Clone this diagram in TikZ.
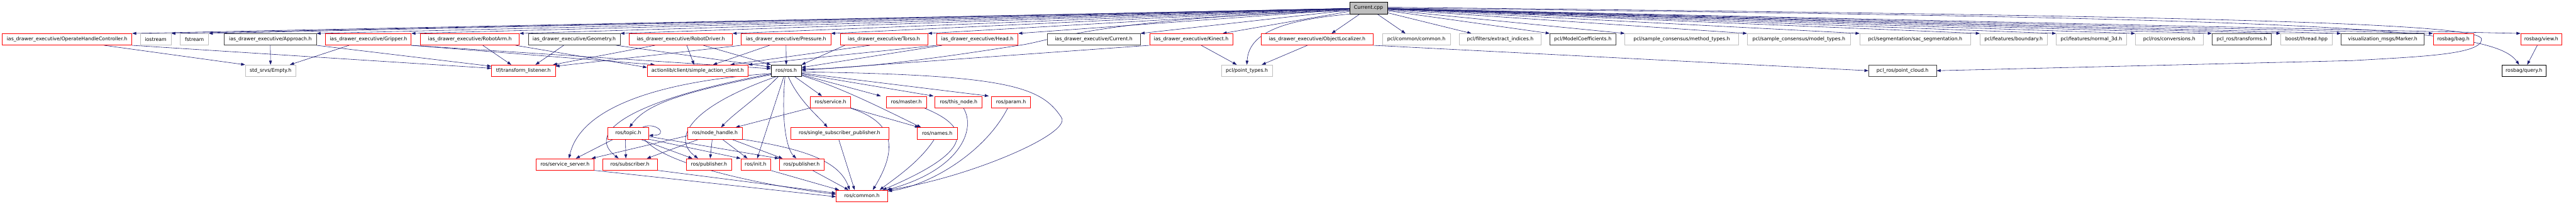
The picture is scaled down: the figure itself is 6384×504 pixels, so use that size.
\documentclass[tikz,border=0pt]{standalone}
\usepackage{fontspec}
\setmainfont{DejaVu Sans}
\usetikzlibrary{arrows.meta,calc}
\definecolor{edgec}{HTML}{191970}
\definecolor{redc}{HTML}{FF0000}
\definecolor{grayc}{HTML}{BFBFBF}
\definecolor{darkc}{HTML}{404040}
\pgfdeclarelayer{bg}
\pgfsetlayers{bg,main}
\newcommand\mkn[6]{\node[#5,minimum width={#3-#2}] (#1) at ({(#2+#3)/2},#4) {#6};}
\begin{document}
\begin{tikzpicture}[x=1pt,y=-1pt,
  box/.style={draw, fill=white, line width=1pt, inner sep=0pt, minimum height=28.5pt, font=\fontsize{12.2}{14}\selectfont},
  rbox/.style={box, draw=redc},
  gbox/.style={box, draw=grayc},
  dbox/.style={box, draw=darkc},
  kbox/.style={box, draw=black},
  cbox/.style={box, draw=black, fill=grayc},
  edg/.style={draw=edgec, line width=0.9pt, -{Triangle[length=10pt,width=7pt,fill=edgec]}}]
\useasboundingbox (0,0) rectangle (6384,504);
% row 0
\mkn{cpp}{3345}{3438}{20}{cbox}{Current.cpp}
% row 1
\mkn{ohc}{5}{327}{97.5}{rbox}{ias\_drawer\_executive/OperateHandleController.h}
\mkn{iostream}{348}{424}{97.5}{gbox}{iostream}
\mkn{fstream}{447}{517}{97.5}{gbox}{fstream}
\mkn{approach}{556}{784}{97.5}{dbox}{ias\_drawer\_executive/Approach.h}
\mkn{gripper}{807}{1019}{97.5}{rbox}{ias\_drawer\_executive/Gripper.h}
\mkn{robotarm}{1042}{1287}{97.5}{rbox}{ias\_drawer\_executive/RobotArm.h}
\mkn{geometry}{1309}{1537}{97.5}{dbox}{ias\_drawer\_executive/Geometry.h}
\mkn{robotdriver}{1559}{1815}{97.5}{rbox}{ias\_drawer\_executive/RobotDriver.h}
\mkn{pressure}{1837}{2059}{97.5}{rbox}{ias\_drawer\_executive/Pressure.h}
\mkn{torso}{2082}{2299}{97.5}{rbox}{ias\_drawer\_executive/Torso.h}
\mkn{head}{2321}{2523}{97.5}{rbox}{ias\_drawer\_executive/Head.h}
\mkn{currenth}{2595}{2826}{97.5}{dbox}{ias\_drawer\_executive/Current.h}
\mkn{kinect}{2849}{3055}{97.5}{rbox}{ias\_drawer\_executive/Kinect.h}
\mkn{objloc}{3125}{3403}{97.5}{rbox}{ias\_drawer\_executive/ObjectLocalizer.h}
\mkn{pclcommon}{3426}{3594}{97.5}{gbox}{pcl/common/common.h}
\mkn{extract}{3617}{3819}{97.5}{gbox}{pcl/filters/extract\_indices.h}
\mkn{modelcoef}{3841}{4004}{97.5}{dbox}{pcl/ModelCoefficients.h}
\mkn{methodtypes}{4027}{4308}{97.5}{gbox}{pcl/sample\_consensus/method\_types.h}
\mkn{modeltypes}{4330}{4586}{97.5}{gbox}{pcl/sample\_consensus/model\_types.h}
\mkn{sacseg}{4609}{4884}{97.5}{gbox}{pcl/segmentation/sac\_segmentation.h}
\mkn{boundary}{4907}{5073}{97.5}{gbox}{pcl/features/boundary.h}
\mkn{normal}{5096}{5270}{97.5}{gbox}{pcl/features/normal\_3d.h}
\mkn{conversions}{5292}{5460}{97.5}{gbox}{pcl/ros/conversions.h}
\mkn{transforms}{5482}{5629}{97.5}{dbox}{pcl\_ros/transforms.h}
\mkn{thread}{5652}{5780}{97.5}{gbox}{boost/thread.hpp}
\mkn{marker}{5802}{6008}{97.5}{dbox}{visualization\_msgs/Marker.h}
\mkn{bag}{6030}{6130}{97.5}{rbox}{rosbag/bag.h}
\mkn{view}{6247}{6349}{97.5}{rbox}{rosbag/view.h}
% row 2
\mkn{empty}{608}{733}{175}{gbox}{std\_srvs/Empty.h}
\mkn{tf}{1218}{1376}{175}{rbox}{tf/transform\_listener.h}
\mkn{actionlib}{1604}{1854}{175}{rbox}{actionlib/client/simple\_action\_client.h}
\mkn{rosh}{1911}{1986}{175}{kbox}{ros/ros.h}
\mkn{pointtypes}{3027}{3153}{175}{gbox}{pcl/point\_types.h}
\mkn{pointcloud}{4631}{4799}{175}{dbox}{pcl\_ros/point\_cloud.h}
\mkn{query}{6200}{6310}{175}{kbox}{rosbag/query.h}
% row 3
\mkn{service}{2008}{2108}{252.5}{rbox}{ros/service.h}
\mkn{master}{2196}{2296}{252.5}{rbox}{ros/master.h}
\mkn{thisnode}{2317}{2434}{252.5}{rbox}{ros/this\_node.h}
\mkn{param}{2457}{2554}{252.5}{rbox}{ros/param.h}
% row 4
\mkn{topic}{1506}{1608}{330}{rbox}{ros/topic.h}
\mkn{nodehandle}{1704}{1840}{330}{rbox}{ros/node\_handle.h}
\mkn{singlesub}{1959}{2202}{330}{rbox}{ros/single\_subscriber\_publisher.h}
\mkn{names}{2273}{2372}{330}{rbox}{ros/names.h}
% row 5
\mkn{srvserver}{1328}{1472}{407}{rbox}{ros/service\_server.h}
\mkn{subscriber}{1493}{1629}{407}{rbox}{ros/subscriber.h}
\mkn{pubA}{1701}{1813}{407}{rbox}{ros/publisher.h}
\mkn{init}{1836}{1909}{407}{rbox}{ros/init.h}
\mkn{pubB}{1931}{2042}{407}{rbox}{ros/publisher.h}
% row 6
\mkn{common}{2072}{2200}{485}{rbox}{ros/common.h}

\begin{pgfonlayer}{bg}
% Current.cpp -> row 1
\foreach \n in {ohc,iostream,fstream,approach,gripper,robotarm,geometry,robotdriver,pressure,torso,head,currenth}
  \draw[edg] (cpp) -- (\n.north east);
\draw[edg] (cpp) -- ([xshift=78pt]kinect.north);
\draw[edg] (cpp) -- ([xshift=36pt]objloc.north);
\draw[edg] (cpp) -- ([xshift=-27pt]pclcommon.north);
\draw[edg] (cpp) -- ([xshift=30pt]extract.north west);
\foreach \n in {modelcoef,methodtypes,modeltypes,sacseg,boundary,normal,conversions,transforms,thread,marker,bag,view}
  \draw[edg] (cpp) -- (\n.north west);
% Current.cpp -> others
\draw[edg] ([yshift=-6pt]cpp.west) .. controls (2750,45) and (2620,95) .. (2540,110) .. controls (2380,135) and (2150,170) .. ([yshift=4pt]rosh.east);
\draw[edg] (cpp.south west) .. controls (3180,50) and (3095,80) .. (pointtypes.north);
\draw[edg] (cpp.east) .. controls (5800,45) and (6180,70) .. ([xshift=-12pt]query.north);
\draw[edg] ([yshift=2pt]cpp.east) .. controls (5600,40) and (6150,60) .. (6150,97) .. controls (6150,135) and (6000,140) .. (5830,150) -- (pointcloud.east);
\draw[edg] ([xshift=-10pt]view.south) -- ([xshift=8pt]query.north);
% row 1 -> row 2
\draw[edg] ([xshift=92pt]ohc.south) -- (empty.north west);
\draw[edg] (ohc.south east) -- ([yshift=6pt]tf.west);
\draw[edg] (approach.south) -- (empty.north);
\draw[edg] (approach.south east) -- ([yshift=11pt]tf.west);
\draw[edg] ([xshift=-48pt]gripper.south) -- ([xshift=-15pt]empty.north east);
\draw[edg] (gripper.south east) -- ([xshift=19pt]actionlib.north west);
\draw[edg] (gripper.south east) -- ([yshift=5pt]rosh.west);
\draw[edg] ([xshift=32pt]robotarm.south) -- ([xshift=-30pt]tf.north);
\draw[edg] ([xshift=113pt]robotarm.south) -- ([yshift=8pt]actionlib.west);
\draw[edg] ([xshift=-26pt]geometry.south) -- ([xshift=30pt]tf.north);
\draw[edg] ([xshift=104pt]geometry.south) -- ([yshift=9pt]rosh.west);
\draw[edg] ([xshift=-64pt]robotdriver.south) -- ([xshift=-6pt]tf.north east);
\draw[edg] ([xshift=15pt]robotdriver.south) -- ([xshift=-9pt]actionlib.north);
\draw[edg] ([xshift=56pt]robotdriver.south) -- (rosh.north west);
\draw[edg] (pressure.south west) -- ([yshift=11pt]tf.east);
\draw[edg] ([xshift=-41pt]pressure.south) -- ([xshift=38pt]actionlib.north);
\draw[edg] (pressure.south) -- (rosh.north);
\draw[edg] ([xshift=-97pt]torso.south) -- (rosh.north east);
\draw[edg] ([xshift=-35pt]torso.south) -- ([xshift=81pt]actionlib.north);
\draw[edg] (head.south west) -- (actionlib.north east);
\draw[edg] ([xshift=-87pt]head.south) -- ([yshift=8pt]rosh.east);
\draw[edg] (kinect.south west) -- ([yshift=1pt]rosh.east);
\draw[edg] ([xshift=25pt]kinect.south) -- ([xshift=-25pt]pointtypes.north);
\draw[edg] ([xshift=-24pt]objloc.south) -- ([xshift=37pt]pointtypes.north);
\draw[edg] (objloc.south east) -- (pointcloud.west);
% ros.h -> children
\draw[edg] ([yshift=-7pt]rosh.west) .. controls (1650,200) and (1440,260) .. ([xshift=10pt]srvserver.north);
\draw[edg] ([yshift=-8pt]rosh.west) .. controls (1600,240) and (1440,320) .. ([xshift=-28pt]subscriber.north);
\draw[edg] ([yshift=-10pt]rosh.west) .. controls (1680,230) and (1600,260) .. ([xshift=3pt]topic.north);
\draw[edg] ([xshift=-25pt]rosh.south) .. controls (1720,260) and (1660,340) .. ([xshift=-27pt]pubA.north);
\draw[edg] ([xshift=-20pt]rosh.south) .. controls (1880,240) and (1820,280) .. ([xshift=15pt]nodehandle.north);
\draw[edg] ([xshift=-6pt]rosh.south) -- ([xshift=4pt]init.north);
\draw[edg] ([xshift=-3pt]rosh.south) .. controls (1935,300) and (1950,370) .. ([xshift=-13pt]pubB.north);
\draw[edg] ([xshift=5pt]rosh.south) .. controls (1980,250) and (2030,290) .. ([xshift=-30pt]singlesub.north);
\draw[edg] ([xshift=21pt]rosh.south) -- ([xshift=-21pt]service.north);
\draw[edg] ([yshift=-10pt]rosh.east) -- ([xshift=-63pt]master.north);
\draw[edg] ([yshift=-8pt]rosh.east) -- ([xshift=-62pt]thisnode.north);
\draw[edg] ([yshift=-6pt]rosh.east) -- ([xshift=-55pt]param.north);
\draw[edg] ([yshift=-12pt]rosh.east) .. controls (2080,215) and (2180,265) .. ([xshift=-40pt]names.north);
\draw[edg] ([yshift=-3pt]rosh.east) .. controls (2500,185) and (2580,215) .. (2630,290) .. controls (2660,330) and (2400,440) .. (common.north east);
% ros/service.h
\draw[edg] (service.south west) -- ([xshift=51pt]nodehandle.north);
\draw[edg] (service.south east) -- ([xshift=-45pt]names.north);
\draw[edg] ([xshift=48pt]service.south) .. controls (2210,300) and (2230,360) .. ([xshift=27pt]common.north);
% row 3 -> common
\draw[edg] ([xshift=44pt]master.south) .. controls (2420,320) and (2400,380) .. ([xshift=51pt]common.north);
\draw[edg] ([xshift=12pt]thisnode.south) .. controls (2420,320) and (2380,420) .. ([xshift=-3pt]common.north east);
\draw[edg] ([xshift=-8pt]param.south) .. controls (2440,380) and (2300,460) .. ([yshift=-3pt]common.north east);
\draw[edg] ([xshift=-7pt]names.south) .. controls (2280,400) and (2220,440) .. ([xshift=44pt]common.north);
% row 4
\draw[edg] ([xshift=-2pt]singlesub.south) -- ([xshift=-18pt]common.north);
\draw[edg] (nodehandle.south east) .. controls (2000,370) and (2080,400) .. ([xshift=-30pt]common.north);
\draw[edg] ([xshift=-7pt]nodehandle.south) -- ([xshift=3pt]pubA.north);
\draw[edg] ([xshift=18pt]nodehandle.south) -- ([xshift=-20pt]init.north);
\draw[edg] ([xshift=41pt]nodehandle.south) -- ([xshift=-47pt]pubB.north);
\draw[edg] ([xshift=-40pt]nodehandle.south) -- ([xshift=42pt]subscriber.north);
\draw[edg] ([yshift=-6pt]nodehandle.west) -- ([xshift=66pt]srvserver.north);
\draw[edg] ([xshift=35pt]topic.north) .. controls (1625,300) and (1660,335) .. ([yshift=-5pt]topic.east);
\draw[edg] ([xshift=-37pt]topic.south) -- ([xshift=27pt]srvserver.north);
\draw[edg] ([xshift=-7pt]topic.south) -- ([xshift=-10pt]subscriber.north);
\draw[edg] ([xshift=30pt]topic.south) -- ([xshift=-41pt]pubA.north);
\draw[edg] (topic.south east) -- (init.north west);
\draw[edg] ([yshift=-8pt]topic.east) -- (pubB.north west);
\draw[edg] ([xshift=40pt]topic.south) .. controls (1650,410) and (1900,460) .. ([yshift=4pt]common.west);
% row 5 -> common
\draw[edg] (srvserver.south east) -- ([yshift=-2pt]common.west);
\draw[edg] (subscriber.south east) -- ([yshift=7pt]common.west);
\draw[edg] (init.south east) -- ([xshift=8pt]common.north west);
\draw[edg] ([xshift=27pt]pubB.south) -- ([xshift=-33pt]common.north);
\end{pgfonlayer}
\end{tikzpicture}
\end{document}
